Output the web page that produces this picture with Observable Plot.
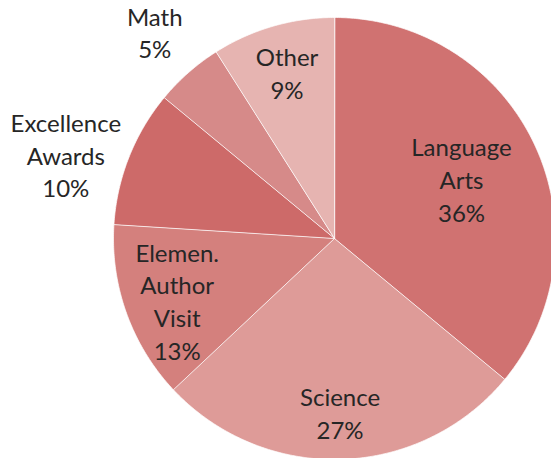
<!DOCTYPE html>
<html>
<head>
<meta charset="utf-8">
<script src="https://cdn.jsdelivr.net/npm/d3@7"></script>
<script src="https://cdn.jsdelivr.net/npm/@observablehq/plot@0.6"></script>
<style>
  html, body { margin: 0; padding: 0; background: #fff; }
</style>
</head>
<body>
<div id="chart"></div>
<script>
// Data
const categories = ["Language Arts", "Science", "Elemen. Author Visit", "Excellence Awards", "Math", "Other"];
const labels = ["Language\nArts", "Science", "Elemen.\nAuthor\nVisit", "Excellence\nAwards", "Math", "Other"];
const values = [36, 27, 13, 10, 5, 9];
const colors = ["#d07271", "#de9b98", "#d4807d", "#cd6a69", "#d68a89", "#e6b4b1"];

// Layout
const W = 551, H = 458;
const cx = 334, cy = 238, R = 221;
const labelRadius = [0.63, 0.80, 0.77, 1.27, 1.23, 0.77];
const labelAngleShift = [1, 0, -2.6, -4.8, 0, 0]; // degrees

const total = d3.sum(values);
const pieData = [];
const polyPts = [];
let acc = 0;
values.forEach((v, i) => {
  const a0 = acc / total * 360;
  const a1 = (acc + v) / total * 360;
  acc += v;
  const pt = (deg, r) => {
    const t = deg * Math.PI / 180;
    return [cx + r * Math.sin(t), cy - r * Math.cos(t)];
  };
  const [x0, y0] = pt(0, 0);
  polyPts.push({cat: categories[i], x: x0, y: y0});
  const n = Math.max(2, Math.ceil((a1 - a0) / 0.5));
  for (let k = 0; k <= n; k++) {
    const [x, y] = pt(a0 + (a1 - a0) * k / n, R);
    polyPts.push({cat: categories[i], x, y});
  }
  const mid = (a0 + a1) / 2 + labelAngleShift[i];
  const [lx, ly] = pt(mid, R * labelRadius[i]);
  pieData.push({cat: categories[i], text: labels[i] + "\n" + v + "%", x: lx, y: ly});
});

const chart = Plot.plot({
  width: W,
  height: H,
  margin: 0,
  x: {domain: [0, W], range: [0, W], axis: null},
  y: {domain: [0, H], range: [0, H], axis: null},
  color: {domain: categories, range: colors},
  style: {background: "#fff"},
  marks: [
    Plot.line(polyPts, {
      x: "x", y: "y", z: "cat", fill: "cat",
      stroke: "#ffffff", strokeWidth: 1, strokeOpacity: 0.7,
      curve: "linear-closed"
    }),
    Plot.text(pieData, {
      x: "x", y: "y", text: "text", dy: -3,
      fontSize: 24, lineHeight: 1.36,
      fontFamily: "Lato, 'Open Sans', sans-serif",
      fill: "#262626", textAnchor: "middle", lineAnchor: "middle"
    })
  ]
});
document.getElementById("chart").appendChild(chart);
</script>
</body>
</html>
